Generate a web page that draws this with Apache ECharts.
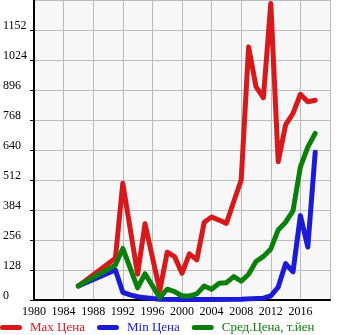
<!DOCTYPE html>
<html>
<head>
<meta charset="utf-8">
<script src="https://cdn.jsdelivr.net/npm/echarts@6/dist/echarts.min.js"></script>
<style>
html,body{margin:0;padding:0;background:#fff;}
#c{width:345px;height:335px;}
</style>
</head>
<body>
<div id="c"></div>
<script>
var seriesNames = ['Max Цена', 'Min Цена', 'Сред.Цена, т.йен'];

var maxYears = [1986, 1991, 1992, 1994, 1995, 1997, 1998, 1999, 2000, 2001, 2002, 2003, 2004, 2005, 2006, 2007, 2008, 2009, 2010, 2011, 2012, 2013, 2014, 2015, 2016, 2017, 2018];
var maxValues = [60, 178, 498, 110, 325, 40, 204, 185, 114, 197, 171, 332, 354, 341, 327, 420, 512, 1080, 910, 863, 1265, 590, 747, 796, 878, 846, 852];

var minYears = [1986, 1991, 1992, 1993, 1994, 1995, 1996, 1997, 2000, 2004, 2008, 2011, 2012, 2013, 2014, 2015, 2016, 2017, 2018];
var minValues = [60, 128, 33, 22, 14, 10, 6, 3, 2, 2, 3, 8, 18, 55, 155, 120, 360, 226, 630];

var avgYears = [1986, 1991, 1992, 1994, 1995, 1997, 1998, 1999, 2000, 2001, 2002, 2003, 2004, 2005, 2006, 2007, 2008, 2009, 2010, 2011, 2012, 2013, 2014, 2015, 2016, 2017, 2018];
var avgValues = [60, 149, 220, 52, 112, 10, 46, 36, 17, 17, 26, 60, 46, 71, 74, 100, 80, 110, 164, 186, 218, 299, 332, 380, 568, 652, 711];

var yearLabels = [1980, 1984, 1988, 1992, 1996, 2000, 2004, 2008, 2012, 2016];
var yearTicks = {min: 1980, max: 2020, step: 4};
var valueTicks = {min: 0, max: 1280, step: 128};

var colors = ['#d7191c', '#1a1ad8', '#0a7f0a'];

function pairs(xs, ys) {
  return xs.map(function (x, i) { return [x, ys[i]]; });
}

var chart = echarts.init(document.getElementById('c'), null, {renderer: 'canvas'});
var serif = '"Liberation Serif", "Times New Roman", serif';
var capsule = 'path://M2.5,0 L19.5,0 A2.5,2.5 0 0 1 19.5,5 L2.5,5 A2.5,2.5 0 0 1 2.5,0 Z';

function mkSeries(name, xs, ys, color) {
  return {
    name: name,
    type: 'line',
    data: pairs(xs, ys),
    showSymbol: false,
    symbol: 'none',
    clip: false,
    lineStyle: {color: color, width: 5, cap: 'round', join: 'round'},
    itemStyle: {color: color},
    animation: false
  };
}

chart.setOption({
  animation: false,
  backgroundColor: '#ffffff',
  grid: {left: 31, right: 15, top: 0, bottom: 35, show: true, backgroundColor: '#f7f7f7', borderWidth: 0},
  legend: {
    left: 0, bottom: 1, padding: 0, itemGap: 12,
    itemWidth: 22, itemHeight: 5,
    icon: capsule,
    textStyle: {fontFamily: serif, fontSize: 13, padding: [0, 0, 0, 3]},
    data: seriesNames.map(function (n, i) {
      return {name: n, icon: capsule, itemStyle: {color: colors[i]}, textStyle: {color: colors[i]}};
    })
  },
  xAxis: {
    type: 'value',
    min: yearTicks.min, max: yearTicks.max, interval: yearTicks.step,
    axisLine: {show: true, onZero: false, lineStyle: {color: '#000', width: 2}},
    axisTick: {show: false},
    splitLine: {show: true, lineStyle: {color: '#bbbbbb', width: 1}},
    axisLabel: {show: false}
  },
  yAxis: {
    type: 'value',
    min: valueTicks.min, max: valueTicks.max, interval: valueTicks.step,
    axisLine: {show: true, onZero: false, lineStyle: {color: '#000', width: 2}},
    axisTick: {show: true, length: 4, lineStyle: {color: '#000', width: 1}},
    splitLine: {show: true, lineStyle: {color: '#bbbbbb', width: 1}},
    axisLabel: {show: true, showMaxLabel: false, hideOverlap: false, color: '#000', fontFamily: serif, fontSize: 12,
      align: 'left', margin: 31, lineHeight: 8, verticalAlign: 'bottom',
      formatter: function (v) { return String(v); }}
  },
  series: [
    mkSeries(seriesNames[0], maxYears, maxValues, colors[0]),
    mkSeries(seriesNames[1], minYears, minValues, colors[1]),
    mkSeries(seriesNames[2], avgYears, avgValues, colors[2])
  ]
});

// year tick labels, placed through the x axis scale
var baseY = chart.convertToPixel({yAxisIndex: 0}, valueTicks.min);
chart.setOption({
  graphic: yearLabels.map(function (yr) {
    return {
      type: 'text',
      silent: true,
      x: chart.convertToPixel({xAxisIndex: 0}, yr),
      y: baseY + 6,
      style: {
        text: String(yr),
        fill: '#000',
        font: '12px ' + serif,
        align: 'center',
        verticalAlign: 'top',
        textAlign: 'center',
        textVerticalAlign: 'top'
      }
    };
  })
});
</script>
</body>
</html>
